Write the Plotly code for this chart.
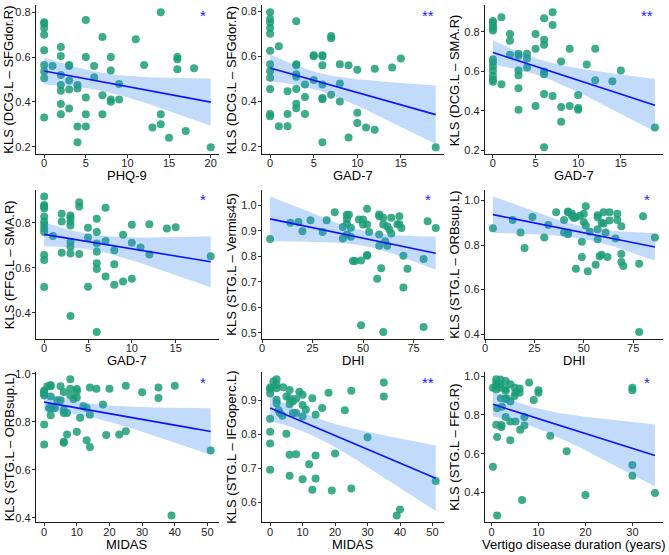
import numpy as np
import plotly.graph_objects as go

W, H = 669, 555

# ---------------- data ----------------
p1_x = [0, 0, 0, 0, 0, 0, 0, 0, 0, 1, 2, 2, 2, 2, 2, 2, 2, 3, 3, 3, 3, 3, 4, 4, 4, 4,
        5, 5, 5, 5, 5, 6, 6, 7, 7, 7, 8, 8, 8, 8, 9, 9, 11, 12, 13, 14, 14, 14, 15,
        16, 16, 16, 17, 18, 20]
p1_y = [0.755, 0.75, 0.73, 0.70, 0.63, 0.565, 0.535, 0.505, 0.33, 0.56,
        0.645, 0.605, 0.52, 0.475, 0.45, 0.39, 0.345, 0.565, 0.56, 0.495, 0.455, 0.37,
        0.475, 0.46, 0.29, 0.22, 0.765, 0.60, 0.42, 0.345, 0.29, 0.56, 0.51,
        0.69, 0.43, 0.345, 0.60, 0.54, 0.41, 0.40, 0.48, 0.41, 0.68, 0.565, 0.285,
        0.80, 0.345, 0.30, 0.24, 0.60, 0.59, 0.545, 0.27, 0.55, 0.197]

p2_x = [0, 0, 0, 0, 0, 0, 0, 0, 0, 0, 0, 0, 1, 1, 2, 2, 2, 3, 3, 3, 3, 3, 3, 3, 3,
        4, 4, 4, 5, 5, 5, 6, 6, 6, 6, 6, 6, 6, 7, 7, 7, 8, 8, 8, 9, 9, 10, 10, 10,
        11, 12, 12, 14, 15, 19]
p2_y = [0.795, 0.765, 0.75, 0.725, 0.70, 0.625, 0.565, 0.535, 0.505, 0.455, 0.345, 0.335,
        0.645, 0.29, 0.445, 0.345, 0.29, 0.755, 0.565, 0.56, 0.52, 0.51, 0.455, 0.39, 0.37,
        0.475, 0.42, 0.345, 0.605, 0.60, 0.495, 0.605, 0.60, 0.56, 0.475, 0.415, 0.41, 0.22,
        0.69, 0.68, 0.43, 0.565, 0.48, 0.40, 0.56, 0.24, 0.54, 0.35, 0.305,
        0.285, 0.545, 0.275, 0.55, 0.59, 0.197]

p3_x = [0, 0, 0, 0, 0, 0, 0, 0, 0, 0, 0, 0, 1, 1, 2, 2, 2, 3, 3, 3, 3, 3, 3,
        4, 4, 4, 5, 5, 5, 6, 6, 6, 6, 6, 6, 6, 7, 7, 7, 8, 8, 8, 9, 9, 10, 10, 10,
        11, 12, 12, 14, 15, 19]
p3_y = [0.855, 0.847, 0.83, 0.817, 0.808, 0.662, 0.647, 0.625, 0.603, 0.578, 0.558, 0.547,
        0.875, 0.535, 0.79, 0.755, 0.685, 0.69, 0.68, 0.605, 0.58, 0.515, 0.405,
        0.69, 0.665, 0.62, 0.79, 0.715, 0.425, 0.87, 0.76, 0.735, 0.60, 0.585, 0.485, 0.215,
        0.90, 0.835, 0.475, 0.65, 0.42, 0.345, 0.715, 0.425, 0.48, 0.415, 0.405,
        0.635, 0.715, 0.555, 0.55, 0.605, 0.315]

p4_x = [0, 0, 0, 0, 0, 0, 0, 0, 0, 0, 0, 0, 1, 2, 2, 2, 3, 3, 3, 3, 3, 3, 3, 3,
        4, 4, 4, 5, 5, 5, 6, 6, 6, 6, 6, 6, 6, 7, 7, 7, 8, 8, 8, 9, 9, 10, 10, 10,
        11, 12, 12, 14, 15, 19]
p4_y = [0.917, 0.879, 0.872, 0.864, 0.828, 0.806, 0.791, 0.774, 0.759, 0.657, 0.635, 0.515,
        0.741, 0.840, 0.806, 0.667, 0.832, 0.822, 0.806, 0.788, 0.715, 0.693, 0.664, 0.386,
        0.891, 0.872, 0.661, 0.778, 0.734, 0.516, 0.818, 0.759, 0.708, 0.671, 0.620, 0.595, 0.315,
        0.867, 0.719, 0.561, 0.678, 0.616, 0.525, 0.747, 0.539, 0.791, 0.711, 0.551,
        0.690, 0.793, 0.659, 0.774, 0.780, 0.651]

p5_x = [4, 14, 18, 20, 24, 30, 32, 36, 40, 40, 42, 42, 42, 42, 43, 44, 44, 45, 46,
        48, 49, 49, 50, 50, 52, 52, 52, 52, 53, 57, 58, 58, 58, 58, 59, 60, 60, 60,
        61, 62, 62, 63, 64, 64, 67, 68, 68, 69, 70, 70, 72, 80, 80, 82, 86]
p5_y = [0.868, 0.932, 0.935, 0.899, 0.942, 0.896, 0.942, 0.974, 0.870, 0.916, 0.964, 0.948,
        0.929, 0.886, 0.964, 0.913, 0.877, 0.782, 0.782, 0.945, 0.784, 0.529, 0.945, 0.925,
        0.987, 0.925, 0.803, 0.805, 0.896, 0.712, 0.965, 0.958, 0.886, 0.842, 0.753, 0.952,
        0.925, 0.503, 0.860, 0.918, 0.842, 0.906, 0.890, 0.952, 0.926, 0.958, 0.926, 0.912,
        0.803, 0.678, 0.751, 0.790, 0.522, 0.938, 0.912]

p6_x = [4, 14, 18, 20, 24, 30, 32, 36, 40, 40, 42, 42, 42, 42, 44, 44, 45, 46, 46,
        48, 49, 49, 50, 50, 51, 51, 52, 53, 56, 57, 57, 57, 57, 58, 59, 59, 60, 60,
        61, 62, 63, 63, 66, 67, 67, 69, 69, 69, 70, 78, 78, 80, 86]
p6_y = [0.875, 0.912, 0.856, 0.787, 0.926, 0.834, 0.890, 0.947, 0.912, 0.856, 0.951, 0.947,
        0.849, 0.856, 0.940, 0.932, 0.922, 0.694, 0.925, 0.932, 0.815, 0.746, 0.941, 0.903,
        0.974, 0.888, 0.682, 0.860, 0.712, 0.934, 0.925, 0.871, 0.826, 0.750, 0.900, 0.757,
        0.897, 0.947, 0.856, 0.746, 0.947, 0.910, 0.829, 0.940, 0.912, 0.885, 0.760, 0.724,
        0.706, 0.716, 0.410, 0.929, 0.834]

p7_x = [0, 0, 0, 0, 0, 0, 1, 1.5, 2, 2, 2, 2, 2, 2.7, 3.3, 4, 5, 5, 6, 6, 6, 6, 6,
        7, 7, 8, 8, 8, 9, 10, 10, 10, 10, 11, 12, 13, 13, 14, 14, 14, 16, 18, 19, 20,
        23, 25, 25, 30, 35, 35, 40, 39, 51]
p7_y = [0.931, 0.923, 0.917, 0.910, 0.789, 0.706, 0.948, 0.858, 0.948, 0.954, 0.906, 0.858,
        0.828, 0.858, 0.858, 0.890, 0.948, 0.890, 0.924, 0.851, 0.837, 0.717, 0.713,
        0.837, 0.748, 0.978, 0.938, 0.910, 0.895, 0.937, 0.928, 0.902, 0.759, 0.817, 0.865,
        0.858, 0.724, 0.943, 0.830, 0.695, 0.938, 0.872, 0.745, 0.938, 0.748, 0.950, 0.761,
        0.923, 0.943, 0.899, 0.950, 0.410, 0.681]

p8_x = [0, 0, 0, 0, 0, 0, 0, 1, 2, 2, 2, 2, 2, 2.6, 3, 3.8, 4, 5, 5, 6, 6, 6, 6, 6,
        7, 7, 8, 8, 8, 9, 10, 10, 10, 10, 11, 12, 13, 13, 14, 14, 14, 16, 18, 19, 20,
        23, 25, 25, 30, 35, 35, 39, 40, 51]
p8_y = [0.938, 0.933, 0.921, 0.846, 0.808, 0.773, 0.696, 0.956, 0.946, 0.963, 0.936, 0.902,
        0.892, 0.871, 0.863, 0.855, 0.939, 0.912, 0.802, 0.931, 0.907, 0.889, 0.740, 0.678,
        0.897, 0.863, 0.905, 0.863, 0.742, 0.926, 0.917, 0.887, 0.853, 0.668, 0.873, 0.712,
        0.907, 0.637, 0.858, 0.738, 0.670, 0.878, 0.923, 0.635, 0.744, 0.871, 0.929, 0.641,
        0.792, 0.953, 0.912, 0.561, 0.579, 0.663]

p9_x = [0.3, 0.3, 1, 1, 1, 1, 1.2, 1, 1.2, 1.2, 1.9, 1.9, 1.9, 2, 2.1, 2.1, 2.2,
        3, 3, 3, 3, 3, 3.2, 4, 4, 4, 4, 4.9, 4.9, 5.1, 5.1, 6, 6, 6.1, 6.5, 7, 7,
        8, 9, 10, 10, 12.5, 16, 20, 30, 30, 30, 30, 34.8]
p9_y = [0.940, 0.533, 0.985, 0.966, 0.949, 0.932, 0.835, 0.750, 0.687, 0.281, 0.983, 0.959,
        0.940, 0.886, 0.748, 0.738, 0.843, 0.976, 0.934, 0.925, 0.882, 0.789, 0.886,
        0.959, 0.869, 0.767, 0.670, 0.942, 0.898, 0.767, 0.915, 0.937, 0.915, 0.724, 0.361,
        0.789, 0.746, 0.968, 0.877, 0.928, 0.915, 0.693, 0.613, 0.387, 0.940, 0.928, 0.542,
        0.486, 0.397]

x_titles = ["PHQ-9", "GAD-7", "GAD-7", "GAD-7", "DHI", "DHI", "MIDAS", "MIDAS",
            "Vertigo disease duration (years)"]
y_titles = ["KLS (DCG.L – SFGdor.R)", "KLS (DCG.L – SFGdor.R)", "KLS (DCG.L – SMA.R)",
            "KLS (FFG.L – SMA.R)", "KLS (STG.L – Vermis45)", "KLS (STG.L – ORBsup.L)",
            "KLS (STG.L – ORBsup.L)", "KLS (STG.L – IFGoperc.L)", "KLS (STG.L – FFG.R)"]
signif = ["*", "**", "**", "*", "*", "*", "*", "**", "*"]
x_ticks = [[0, 5, 10, 15, 20], [0, 5, 10, 15], [0, 5, 10, 15], [0, 5, 10, 15],
           [0, 25, 50, 75], [0, 25, 50, 75], [0, 10, 20, 30, 40, 50],
           [0, 10, 20, 30, 40, 50], [0, 10, 20, 30]]
y_ticks = [[0.2, 0.4, 0.6, 0.8], [0.2, 0.4, 0.6, 0.8], [0.2, 0.4, 0.6, 0.8],
           [0.4, 0.6, 0.8], [0.5, 0.6, 0.7, 0.8, 0.9, 1.0], [0.4, 0.6, 0.8, 1.0],
           [0.4, 0.6, 0.8, 1.0], [0.6, 0.7, 0.8, 0.9], [0.4, 0.6, 0.8, 1.0]]

panels = [(p1_x, p1_y), (p2_x, p2_y), (p3_x, p3_y), (p4_x, p4_y), (p5_x, p5_y),
          (p6_x, p6_y), (p7_x, p7_y), (p8_x, p8_y), (p9_x, p9_y)]

# ---------------- layout geometry (pixels) ----------------
col_px = [(33, 217), (260, 443), (484, 663)]
row_px = [(0.5, 151), (187, 338), (372, 524)]
ytitle_x = [6, 229.5, 453.5]
xtitle_y = [172.5, 360, 546]

POINT = "rgba(27,158,119,0.85)"
LINE = "#0a14ff"
BAND = "rgba(55,135,240,0.30)"
FONT = "Liberation Sans, Arial, sans-serif"


def fit(x, y):
    x = np.asarray(x, float)
    y = np.asarray(y, float)
    n = len(x)
    b, a = np.polyfit(x, y, 1)
    xs = np.linspace(x.min(), x.max(), 80)
    yh = a + b * xs
    res = y - (a + b * x)
    s = np.sqrt(np.sum(res ** 2) / (n - 2))
    sxx = np.sum((x - x.mean()) ** 2)
    se = s * np.sqrt(1.0 / n + (xs - x.mean()) ** 2 / sxx)
    t = 2.005
    return xs, yh, yh - t * se, yh + t * se


fig = go.Figure()
annotations = []
layout = {}

for i, (px_, py_) in enumerate(panels):
    r, c = divmod(i, 3)
    k = "" if i == 0 else str(i + 1)
    xa, ya = "x" + k, "y" + k
    xs, yh, lo, hi = fit(px_, py_)

    fig.add_trace(go.Scatter(x=px_, y=py_, mode="markers", xaxis=xa, yaxis=ya,
                             marker=dict(size=8, color=POINT, line=dict(width=0)),
                             showlegend=False, hoverinfo="skip"))
    fig.add_trace(go.Scatter(x=np.concatenate([xs, xs[::-1]]),
                             y=np.concatenate([hi, lo[::-1]]),
                             fill="toself", fillcolor=BAND, mode="lines",
                             line=dict(width=0), xaxis=xa, yaxis=ya,
                             showlegend=False, hoverinfo="skip"))
    fig.add_trace(go.Scatter(x=xs, y=yh, mode="lines", line=dict(color=LINE, width=1.6),
                             xaxis=xa, yaxis=ya, showlegend=False, hoverinfo="skip"))

    xmin, xmax = min(px_), max(px_)
    ymin, ymax = min(min(py_), lo.min()), max(max(py_), hi.max())
    dx, dy = (xmax - xmin) * 0.05, (ymax - ymin) * 0.05

    x0, x1 = col_px[c]
    y0, y1 = row_px[r]
    axis_common = dict(showline=True, linecolor="#1a1a1a", linewidth=1, ticks="outside",
                       ticklen=3, tickwidth=1, tickcolor="#333333", showgrid=False,
                       zeroline=False, tickfont=dict(size=11, color="#222222", family=FONT))
    layout["xaxis" + k] = dict(axis_common, domain=[x0 / W, x1 / W], anchor=ya,
                               range=[xmin - dx, xmax + dx], tickvals=x_ticks[i],
                               ticklabelstandoff=-4)
    layout["yaxis" + k] = dict(axis_common, domain=[1 - y1 / H, 1 - y0 / H], anchor=xa,
                               range=[ymin - dy, ymax + dy], tickvals=y_ticks[i],
                               tickformat=".1f", ticklabelstandoff=-1)

    annotations.append(dict(text=x_titles[i], xref="paper", yref="paper",
                            x=(x0 + x1) / 2 / W, y=1 - xtitle_y[r] / H,
                            xanchor="center", yanchor="middle", showarrow=False,
                            font=dict(size=13, color="#000000", family=FONT)))
    annotations.append(dict(text=y_titles[i], xref="paper", yref="paper",
                            x=ytitle_x[c] / W, y=1 - (y0 + y1) / 2 / H, textangle=-90,
                            xanchor="center", yanchor="middle", showarrow=False,
                            font=dict(size=13, color="#000000", family=FONT)))
    annotations.append(dict(text=signif[i], xref="paper", yref="paper",
                            x=(x1 - 16) / W, y=1 - (y0 + 10) / H,
                            xanchor="center", yanchor="middle", showarrow=False,
                            font=dict(size=15, color="#1a1aff", family=FONT)))

fig.update_layout(width=W, height=H, margin=dict(l=0, r=0, t=0, b=0),
                  paper_bgcolor="white", plot_bgcolor="white",
                  annotations=annotations, **layout)

fig.write_html("out.html", config={"displayModeBar": False},
               post_script="document.body.style.margin='0px';document.body.style.padding='0px';")
